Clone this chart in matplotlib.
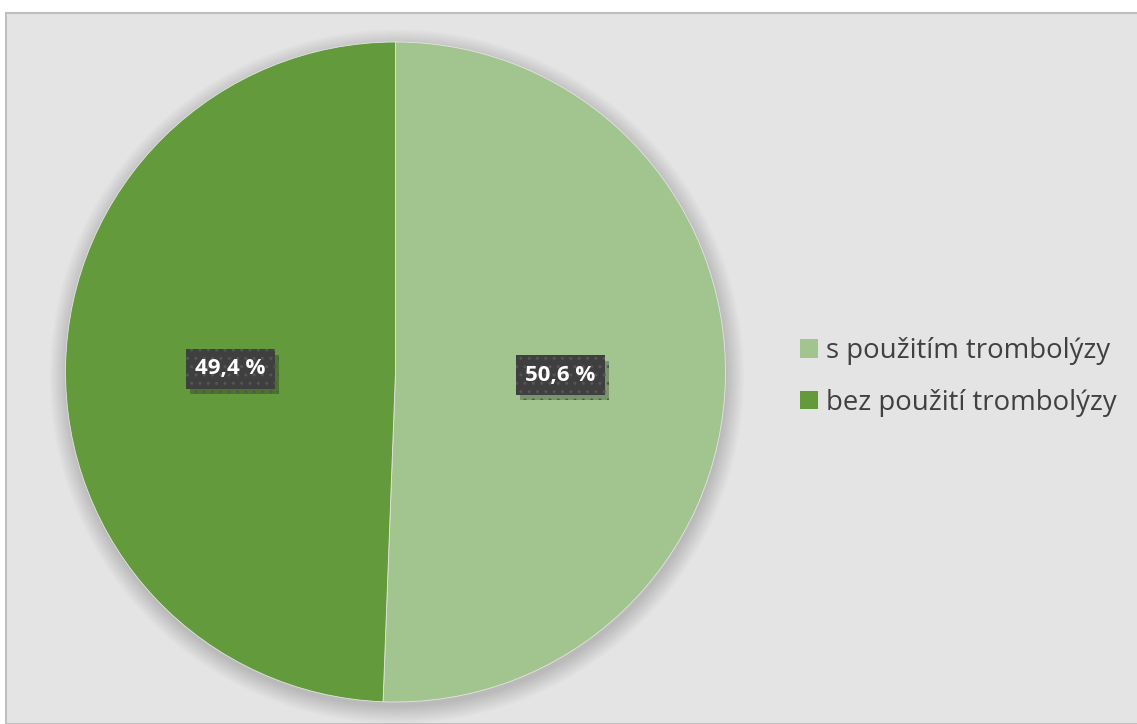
import matplotlib.pyplot as plt
import matplotlib.patheffects as pe
from matplotlib.patches import Rectangle, Circle, Patch

labels = ['s použitím trombolýzy', 'bez použití trombolýzy']
shares = [50.6, 49.4]
colors = ['#a2c58f', '#639b3c']

W, H = 1137, 724
fig = plt.figure(figsize=(W / 100, H / 100), dpi=100, facecolor='white')

# grey chart area with a thin border
fig.patches.append(Rectangle((6 / W, 0), 1.2, 1 - 13 / H, transform=fig.transFigure,
                             facecolor='#e4e4e4', edgecolor='#bfbfbf', linewidth=1.5,
                             zorder=-10))

cx, cy, r = 395.5, 372, 330
ax = fig.add_axes([(cx - r) / W, (H - cy - r) / H, 2 * r / W, 2 * r / H])

# soft shadow under the pie
for i in range(14):
    ax.add_patch(Circle((0.004, -0.014), 1.0 + i * 0.004, facecolor='black',
                        alpha=0.012, linewidth=0, zorder=0, clip_on=False))

pct = lambda p: f'{p:.1f} %'.replace('.', ',')
wedges, texts, autotexts = ax.pie(
    shares, colors=colors, startangle=90, counterclock=False, radius=1,
    autopct=pct, pctdistance=0.5,
    wedgeprops=dict(linewidth=0.6, edgecolor='#e4e4e4'),
    textprops=dict(color='white', fontsize=16, fontweight='bold', family='Open Sans',
                   zorder=5))

# data labels on dark dotted boxes with a small drop shadow
for t in autotexts:
    t.set_bbox(dict(boxstyle='square,pad=0.42', facecolor='#3f3f3f', edgecolor='#555555',
                    hatch='..', linewidth=0))
    t.get_bbox_patch().set_path_effects(
        [pe.withSimplePatchShadow(offset=(3, -4), shadow_rgbFace='black', alpha=0.25)])

ax.set_xlim(-1, 1)
ax.set_ylim(-1, 1)
ax.set_aspect('equal')
ax.axis('off')

handles = [Patch(facecolor=c, edgecolor='none') for c in colors]
leg = fig.legend(handles, labels, loc='center left',
                 bbox_to_anchor=(775 / W, 1 - 377 / H), frameon=False,
                 prop=dict(family='Open Sans', size=19.8), labelcolor='#404040',
                 handlelength=0.67, handleheight=0.67, handletextpad=0.3,
                 labelspacing=0.85)

fig.savefig('out.png', dpi=100, facecolor='white')
